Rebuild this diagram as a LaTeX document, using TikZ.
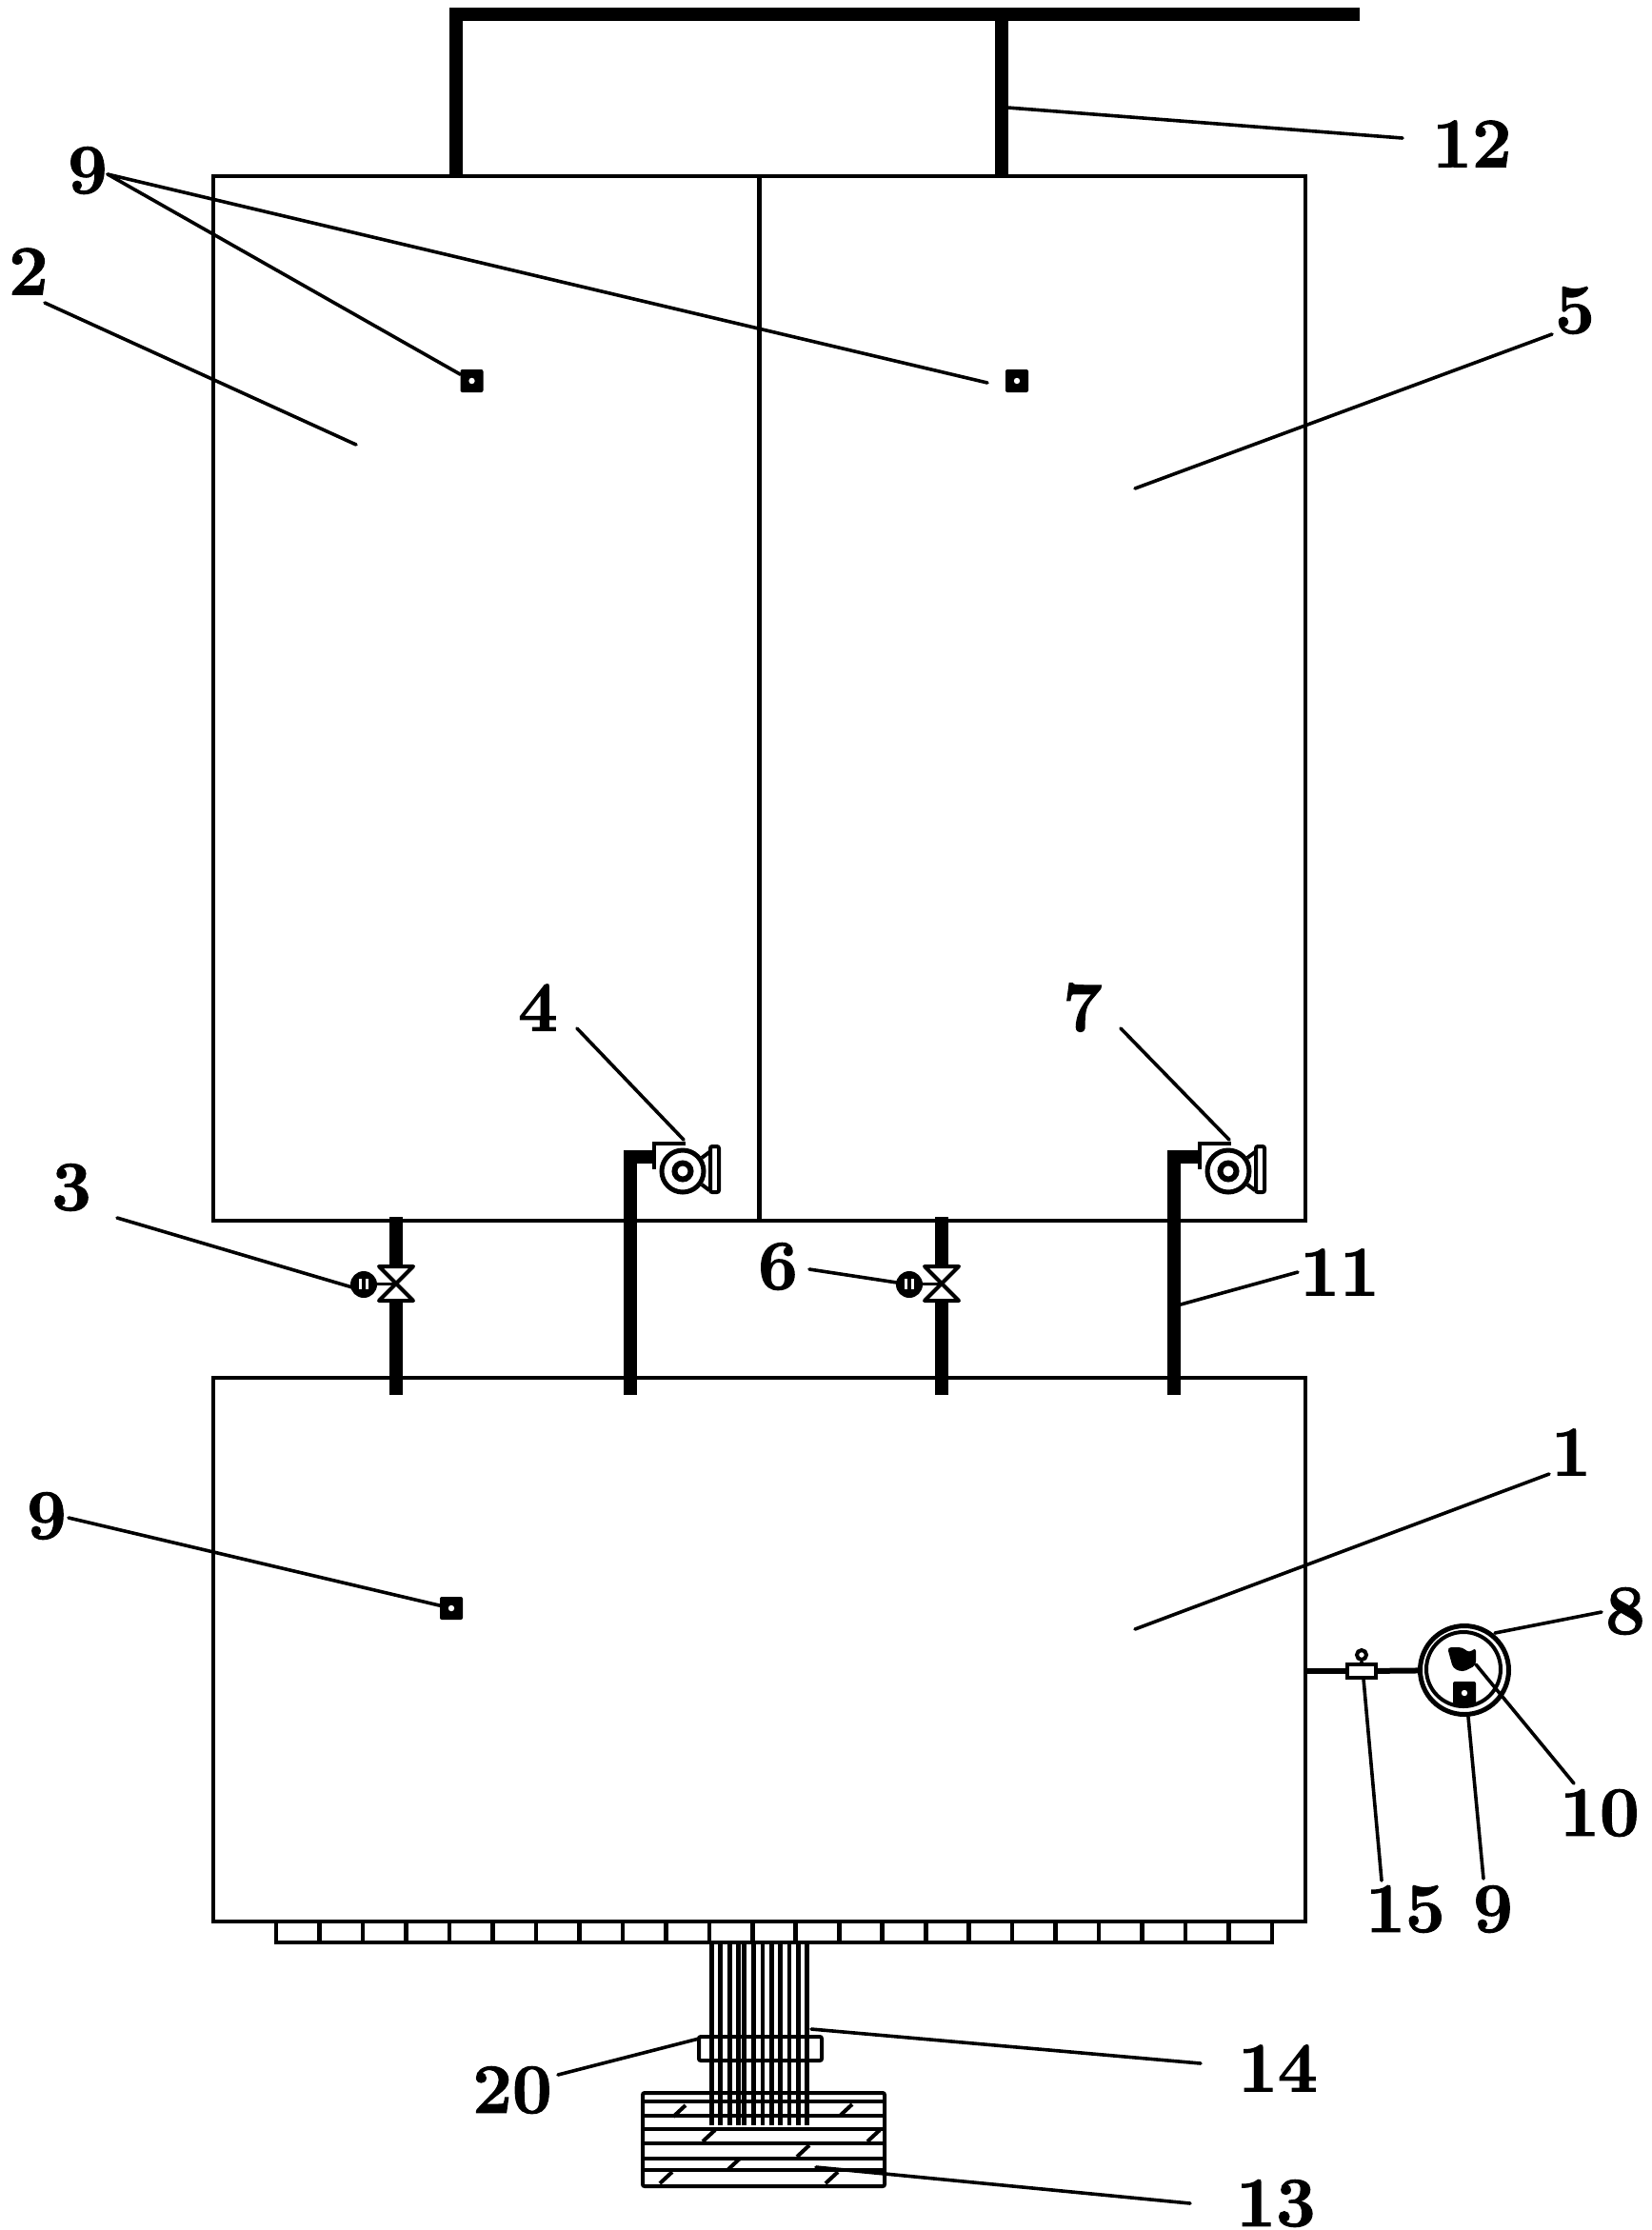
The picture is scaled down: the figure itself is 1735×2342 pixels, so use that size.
\documentclass[tikz,border=0pt]{standalone}
\usepackage{fontspec}
\newfontfamily\numfont[BoldFeatures={FakeBold=1.6}]{Latin Modern Roman}
\tikzset{wall/.style={line width=2.3pt}}
\tikzset{pipe/.style={line width=6.8pt}}
\tikzset{thinpipe/.style={line width=3pt}}
\tikzset{part/.style={line width=2pt}}
\tikzset{leader/.style={line width=1.8pt, line cap=round}}
\tikzset{tank/.style={wall, draw, outer sep=0pt, inner sep=0pt}}
\tikzset{numlabel/.style={font=\fontsize{37}{37}\selectfont\numfont\bfseries, inner sep=0pt}}
\tikzset{sensor/.style={fill=black, outer sep=0pt, inner sep=0pt, minimum size=12pt, rounded corners=1pt,
	path picture={\fill[white] (path picture bounding box.center) circle (1.6pt);}}}
\tikzset{pump/.pic={
	\coordinate (-in) at (-30,-15);
	\draw[part] (-30,-2) -- (-30,-29) -- (3,-29);
	\draw[part] (20,-14) -- (28,-20) (20,14) -- (28,20);
	\draw[part, rounded corners=1pt] (29,-26) rectangle (38,22);
	\draw[line width=2.5pt, fill=white] (0,0) circle (22);
	\draw[line width=3pt] (0,0) circle (8.5);
}}
\tikzset{valve/.pic={
	\coordinate (-top) at (0,-19);
	\coordinate (-bot) at (0,19);
	\draw[part, fill=white, line join=round] (-18,-18) -- (18,-18) -- (-18,18) -- (18,18) -- cycle;
	\fill (-34,1) circle (14);
	\fill[white] (-39,-5) rectangle (-29,6);
	\draw[part] (-34,-7) -- (-34,8);
	\draw[line width=1.5pt] (-20,0) -- (0,0);
}}

\begin{document}
\begin{tikzpicture}[x=0.5pt, y=-0.5pt]
	\useasboundingbox (0,0) rectangle (1735,2342);

	% Nodes
	\node (upperTank) [tank, minimum width=573.5pt, minimum height=548.5pt] at (797.5,733.5) {};
	\node (lowerTank) [tank, minimum width=573.5pt, minimum height=285.5pt] at (797.5,1732.5) {};
	\draw [wall] (upperTank.north) -- (upperTank.south);

	\node (sensorA) [sensor] at (495.5,400) {};
	\node (sensorB) [sensor] at (1068,400) {};
	\node (sensorC) [sensor] at (474,1689) {};

	\pic (pumpA) at (717,1230) {pump};
	\pic (pumpB) at (1290,1230) {pump};
	\pic (valveA) at (416,1348) {valve};
	\pic (valveB) at (989,1348) {valve};

	\node (fitting) [part, draw, fill=white, outer sep=0pt, inner sep=0pt, minimum width=15pt, minimum height=7pt] at (1430,1755) {};
	\node (fittingTop) [part, draw, circle, inner sep=0pt, minimum size=5pt] at (1430,1738) {};
	\node (gauge) [line width=2.5pt, draw, circle, inner sep=0pt, outer sep=0pt, minimum size=46.5pt] at (1538,1754) {};
	\node (gaugeInner) [line width=2pt, draw, circle, inner sep=0pt, minimum size=39pt] at (1537,1753) {};
	\node (sensorD) [sensor] at (1538,1778) {};
	\fill [rounded corners=2pt] (1520,1730) -- (1536,1730) -- (1543,1736) -- (1550,1730) -- (1550,1749) -- (1536,1756) -- (1526,1752) -- cycle;

	\node (clamp) [part, draw, rounded corners=1pt, outer sep=0pt, inner sep=0pt, minimum width=64.5pt, minimum height=12.5pt] at (798.5,2151.5) {};
	\node (block) [part, draw, rounded corners=1pt, outer sep=0pt, inner sep=0pt, minimum width=127pt, minimum height=49pt] at (802,2247) {};

	% Labels
	\node (num9a) [numlabel] at (92,179) {9};
	\node (num2) [numlabel] at (30,285) {2};
	\node (num5) [numlabel] at (1654,326) {5};
	\node (num12) [numlabel] at (1546,151) {12};
	\node (num4) [numlabel] at (565,1058) {4};
	\node (num7) [numlabel] at (1137,1058) {7};
	\node (num3) [numlabel] at (75,1247) {3};
	\node (num6) [numlabel] at (817,1330) {6};
	\node (num11) [numlabel] at (1407,1336) {11};
	\node (num1) [numlabel] at (1650,1525) {1};
	\node (num9c) [numlabel] at (49,1592) {9};
	\node (num8) [numlabel] at (1707,1692) {8};
	\node (num10) [numlabel] at (1680,1904) {10};
	\node (num15) [numlabel] at (1476,2005) {15};
	\node (num9d) [numlabel] at (1568,2005) {9};
	\node (num14) [numlabel] at (1342,2172) {14};
	\node (num20) [numlabel] at (538,2195) {20};
	\node (num13) [numlabel] at (1340,2314) {13};

	% Free ends
	\coordinate (tip9a) at (113,183); \coordinate (end9b) at (1037,402);
	\coordinate (tip2) at (47,318); \coordinate (end2) at (374,467);
	\coordinate (tip5) at (1630,351); \coordinate (end5) at (1192,513);
	\coordinate (tip12) at (1473,145); \coordinate (end12) at (1058,113);
	\coordinate (tip4) at (606,1080); \coordinate (end4) at (718,1197);
	\coordinate (tip7) at (1177,1080); \coordinate (end7) at (1291,1197);
	\coordinate (tip3) at (123,1279); \coordinate (end3) at (370,1352);
	\coordinate (tip6) at (850,1333); \coordinate (end6) at (942,1347);
	\coordinate (tip11) at (1363,1336); \coordinate (end11) at (1240,1370);
	\coordinate (tip1) at (1627,1548); \coordinate (end1) at (1192,1711);
	\coordinate (tip9c) at (72,1594);
	\coordinate (tip8) at (1682,1693); \coordinate (end8) at (1570,1715);
	\coordinate (tip10) at (1653,1873); \coordinate (end10) at (1550,1748);
	\coordinate (tip9d) at (1558,1973); \coordinate (end9d) at (1542,1803);
	\coordinate (tip15) at (1451,1975); \coordinate (end15) at (1432,1763);
	\coordinate (tip14) at (1261,2167); \coordinate (end14) at (852,2131);
	\coordinate (tip20) at (586,2179); \coordinate (end20) at (734,2141);
	\coordinate (tip13) at (1250,2314); \coordinate (end13) at (857,2276);

	\coordinate (ventA) at (479,15);
	\coordinate (ventB) at (1052,15);
	\coordinate (ventEnd) at (1428,15);
	\coordinate (pipeTopA) at (416,1278);
	\coordinate (pipeTopB) at (989,1278);
	\coordinate (pipeLowA) at (416,1465);
	\coordinate (pipeLowB) at (989,1465);
	\coordinate (riserA) at (662,1465);
	\coordinate (riserB) at (1233,1465);

	% Connectors
	\draw [pipe] (ventA |- upperTank.north) -- (ventA) -- (ventEnd);
	\draw [pipe] (ventB |- upperTank.north) -- (ventB);
	\draw [pipe] (pipeTopA) -- (valveA-top);
	\draw [pipe] (valveA-bot) -- (pipeLowA);
	\draw [pipe] (pipeTopB) -- (valveB-top);
	\draw [pipe] (valveB-bot) -- (pipeLowB);
	\draw [pipe] (riserA) |- (pumpA-in);
	\draw [pipe] (riserB) |- (pumpB-in);
	\draw [thinpipe] (lowerTank.east |- fitting) -- (fitting);
	\draw [thinpipe] (fitting) -- (gauge);
	\draw [part] (fitting) -- (fittingTop);

	\foreach \from/\to in {tip9a/sensorA, tip9a/end9b, tip2/end2, tip5/end5, tip12/end12, tip4/end4, tip7/end7,
		tip3/end3, tip6/end6, tip11/end11, tip1/end1, tip9c/sensorC, tip8/end8, tip10/end10, tip9d/end9d,
		tip15/end15, tip14/end14, tip20/end20, tip13/end13}
		\draw [leader] (\from) -- (\to);

	% Rail under the lower tank
	\draw [wall] (290,2018) -- (290,2040) -- (1336,2040) -- (1336,2018);
	\foreach \i in {1,...,22}
		\draw [wall] ({290+45.48*\i},2018) -- ({290+45.48*\i},2040);

	% Tube bundle
	\foreach \x in {747.3,756.7,766.3,775.7,781.3,791.3,801,810.3,819.7,829,838.3,847.7}
		\draw [wall] (\x,2040) -- (\x,2232);

	% Layers in the block
	\foreach \y in {2207,2222,2236,2251,2267,2279}
		\draw [part] (block.west |- 0,\y) -- (block.east |- 0,\y);
	\foreach \x/\y in {707/2223, 882/2222, 738/2249, 911/2249, 837/2265, 764/2279, 693/2293, 867/2293}
		\draw [part] (\x,\y) -- ++(13,-12);

\end{tikzpicture}
\end{document}
